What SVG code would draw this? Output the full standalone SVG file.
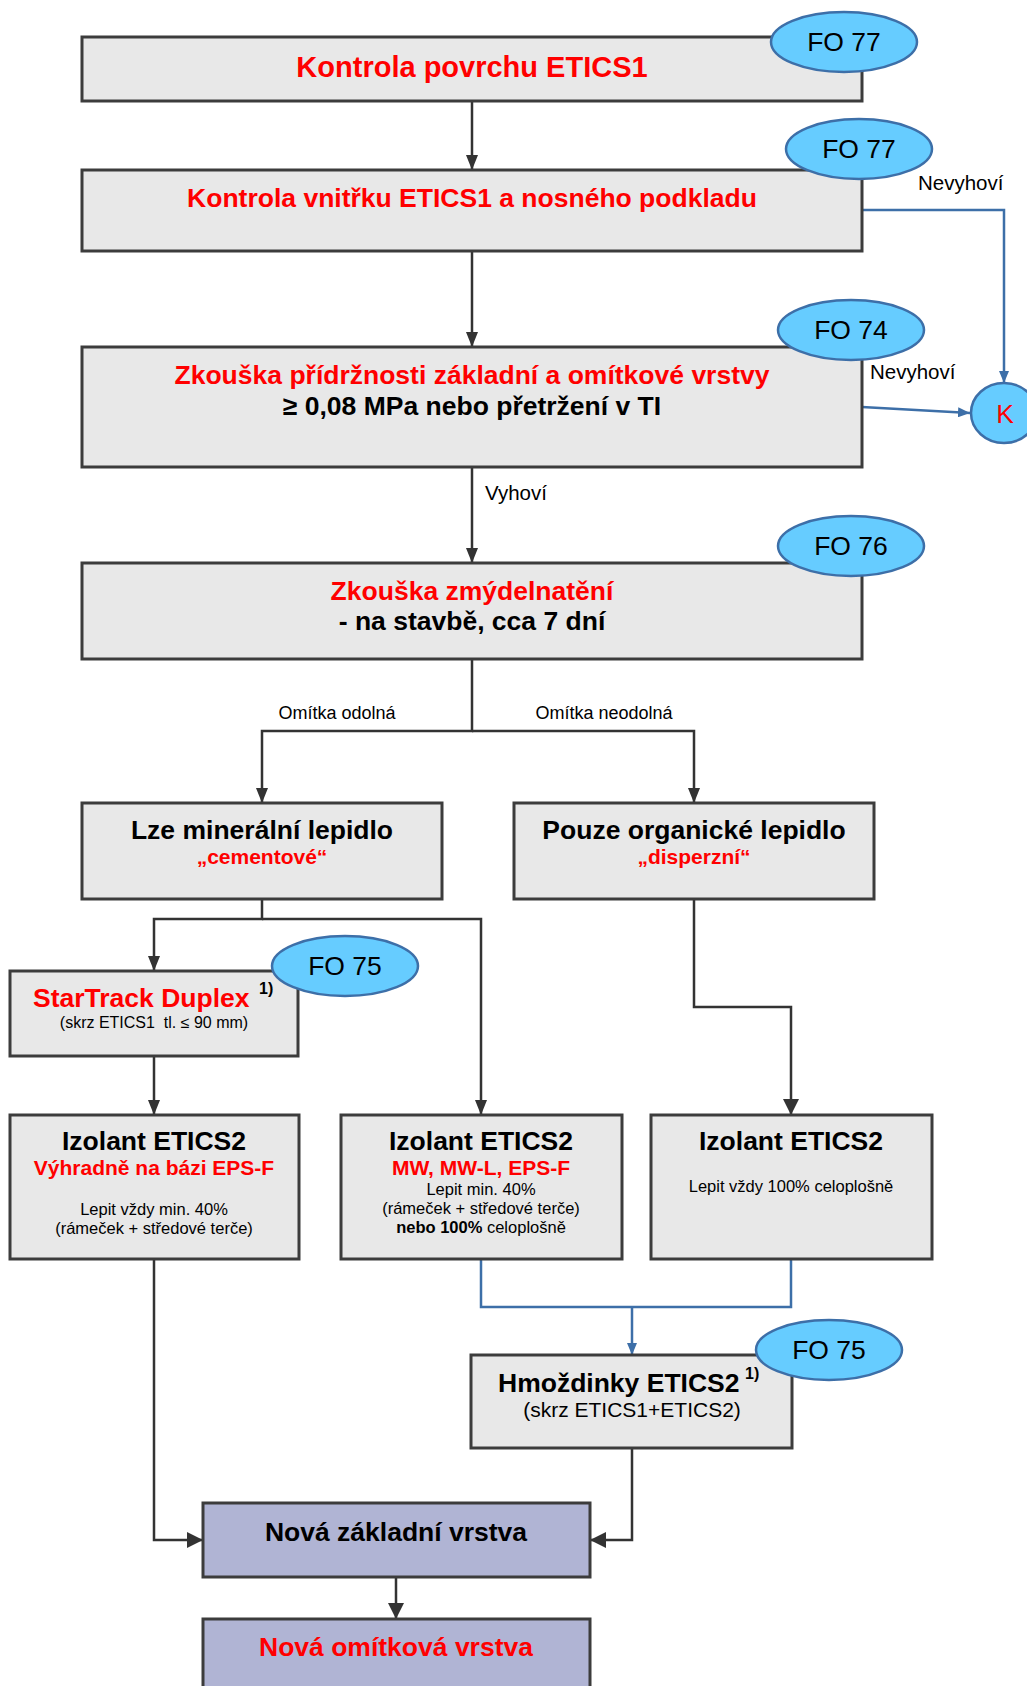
<svg xmlns="http://www.w3.org/2000/svg" width="1027" height="1686" viewBox="0 0 1027 1686">
<style>
text{font-family:"Liberation Sans",Arial,sans-serif}
.box{fill:#e8e8e8;stroke:#3c3c3c;stroke-width:3}
.boxb{fill:#b0b4d4;stroke:#3c3c3c;stroke-width:3}
.fo{fill:#66ccff;stroke:#3d6fa8;stroke-width:2.5}
.t1{font-size:29px;font-weight:bold;fill:#ff0000;text-anchor:middle}
.tr{font-size:26.5px;font-weight:bold;fill:#ff0000;text-anchor:middle}
.tb{font-size:26.5px;font-weight:bold;fill:#000;text-anchor:middle}
.sr{font-size:21px;font-weight:bold;fill:#ff0000;text-anchor:middle}
.sm{font-size:16.5px;fill:#000;text-anchor:middle}
.fot{font-size:26.5px;fill:#000;text-anchor:middle}
.lab{font-size:20.5px;fill:#000}
.lab2{font-size:18px;fill:#000;text-anchor:middle}
.sup{font-size:16px;font-weight:bold;fill:#000}
.ln{fill:none;stroke:#333;stroke-width:2.5}
.bl{fill:none;stroke:#3d6fa8;stroke-width:2.5}
</style>
<defs>
<marker id="ab" markerUnits="userSpaceOnUse" markerWidth="15" markerHeight="12" refX="15" refY="6" orient="auto" viewBox="0 0 15 12"><path d="M0,0 L15,6 L0,12 z" fill="#333"/></marker>
<marker id="abig" markerUnits="userSpaceOnUse" markerWidth="16" markerHeight="16" refX="16" refY="8" orient="auto" viewBox="0 0 16 16"><path d="M0,0 L16,8 L0,16 z" fill="#333"/></marker>
<marker id="ablue" markerUnits="userSpaceOnUse" markerWidth="12" markerHeight="10" refX="12" refY="5" orient="auto" viewBox="0 0 12 10"><path d="M0,0 L12,5 L0,10 z" fill="#3d6fa8"/></marker>
</defs>

<g id="connectors">
<path class="ln" d="M472 101 V170" marker-end="url(#ab)"/>
<path class="ln" d="M472 251 V347" marker-end="url(#ab)"/>
<path class="ln" d="M472 467 V563" marker-end="url(#ab)"/>
<path class="ln" d="M472 659 V731 H262 V803" marker-end="url(#ab)"/>
<path class="ln" d="M472 731 H694 V803" marker-end="url(#ab)"/>
<path class="ln" d="M262 899 V919 H154 V971" marker-end="url(#ab)"/>
<path class="ln" d="M262 919 H481 V1115" marker-end="url(#ab)"/>
<path class="ln" d="M154 1056 V1115" marker-end="url(#ab)"/>
<path class="ln" d="M694 899 V1007 H791 V1115" marker-end="url(#abig)"/>
<path class="bl" d="M481 1259 V1307 H791 V1259"/>
<path class="bl" d="M632 1307 V1355" marker-end="url(#ablue)"/>
<path class="ln" d="M154 1259 V1540 H203" marker-end="url(#abig)"/>
<path class="ln" d="M632 1448 V1540 H590" marker-end="url(#abig)"/>
<path class="ln" d="M396 1577 V1619" marker-end="url(#abig)"/>
<path class="bl" d="M862 210 H1004 V383" marker-end="url(#ablue)"/>
<path class="bl" d="M862 407 L970 413" marker-end="url(#ablue)"/>
<text class="lab" x="918" y="190">Nevyhoví</text>
<text class="lab" x="870" y="379">Nevyhoví</text>
<text class="lab" x="485" y="500">Vyhoví</text>
<text class="lab2" x="337" y="719">Omítka odolná</text>
<text class="lab2" x="604" y="719">Omítka neodolná</text>
</g>

<g id="n1">
<rect class="box" x="82" y="37" width="780" height="64"/>
<text class="t1" x="472" y="77">Kontrola povrchu ETICS1</text>
</g>
<g id="fo1"><ellipse class="fo" cx="844" cy="42" rx="73" ry="30"/><text class="fot" x="844" y="51">FO 77</text></g>

<g id="n2">
<rect class="box" x="82" y="170" width="780" height="81"/>
<text class="tr" x="472" y="207">Kontrola vnitřku ETICS1 a nosného podkladu</text>
</g>
<g id="fo2"><ellipse class="fo" cx="859" cy="149" rx="73" ry="30"/><text class="fot" x="859" y="158">FO 77</text></g>

<g id="n3">
<rect class="box" x="82" y="347" width="780" height="120"/>
<text class="tr" x="472" y="384">Zkouška přídržnosti základní a omítkové vrstvy</text>
<text class="tb" x="472" y="415">≥ 0,08 MPa nebo přetržení v TI</text>
</g>
<g id="fo3"><ellipse class="fo" cx="851" cy="330" rx="73" ry="30"/><text class="fot" x="851" y="339">FO 74</text></g>

<g id="k"><ellipse class="fo" cx="1004" cy="413" rx="33" ry="30"/><text class="fot" x="1005" y="423" style="fill:#ff0000">K</text></g>

<g id="n4">
<rect class="box" x="82" y="563" width="780" height="96"/>
<text class="tr" x="472" y="600">Zkouška zmýdelnatění</text>
<text class="tb" x="472" y="630">- na stavbě, cca 7 dní</text>
</g>
<g id="fo4"><ellipse class="fo" cx="851" cy="546" rx="73" ry="30"/><text class="fot" x="851" y="555">FO 76</text></g>

<g id="n5">
<rect class="box" x="82" y="803" width="360" height="96"/>
<text class="tb" x="262" y="839">Lze minerální lepidlo</text>
<text class="sr" x="262" y="864">„cementové“</text>
</g>

<g id="n6">
<rect class="box" x="514" y="803" width="360" height="96"/>
<text class="tb" x="694" y="839">Pouze organické lepidlo</text>
<text class="sr" x="694" y="864">„disperzní“</text>
</g>

<g id="n7">
<rect class="box" x="10" y="971" width="288" height="85"/>
<text class="tr" x="33" y="1007" style="text-anchor:start">StarTrack Duplex</text>
<text class="sup" x="259" y="994">1)</text>
<text class="sm" x="154" y="1028" style="font-size:16px">(skrz ETICS1&#160; tl. ≤ 90 mm)</text>
</g>
<g id="fo5"><ellipse class="fo" cx="345" cy="966" rx="73" ry="30"/><text class="fot" x="345" y="975">FO 75</text></g>

<g id="n8">
<rect class="box" x="10" y="1115" width="289" height="144"/>
<text class="tb" x="154" y="1150">Izolant ETICS2</text>
<text class="sr" x="154" y="1175">Výhradně na bázi EPS-F</text>
<text class="sm" x="154" y="1215">Lepit vždy min. 40%</text>
<text class="sm" x="154" y="1234">(rámeček + středové terče)</text>
</g>

<g id="n9">
<rect class="box" x="341" y="1115" width="281" height="144"/>
<text class="tb" x="481" y="1150">Izolant ETICS2</text>
<text class="sr" x="481" y="1175">MW, MW-L, EPS-F</text>
<text class="sm" x="481" y="1195">Lepit min. 40%</text>
<text class="sm" x="481" y="1214">(rámeček + středové terče)</text>
<text class="sm" x="481" y="1233"><tspan font-weight="bold">nebo 100%</tspan> celoplošně</text>
</g>

<g id="n10">
<rect class="box" x="651" y="1115" width="281" height="144"/>
<text class="tb" x="791" y="1150">Izolant ETICS2</text>
<text class="sm" x="791" y="1192">Lepit vždy 100% celoplošně</text>
</g>

<g id="n11">
<rect class="box" x="471" y="1355" width="321" height="93"/>
<text class="tb" x="498" y="1392" style="text-anchor:start">Hmoždinky ETICS2</text>
<text class="sup" x="745" y="1379">1)</text>
<text class="sm" x="632" y="1417" style="font-size:21px">(skrz ETICS1+ETICS2)</text>
</g>
<g id="fo6"><ellipse class="fo" cx="829" cy="1350" rx="73" ry="30"/><text class="fot" x="829" y="1359">FO 75</text></g>

<g id="n12">
<rect class="boxb" x="203" y="1503" width="387" height="74"/>
<text class="tb" x="396" y="1541">Nová základní vrstva</text>
</g>

<g id="n13">
<rect class="boxb" x="203" y="1619" width="387" height="90"/>
<text class="tr" x="396" y="1656">Nová omítková vrstva</text>
</g>
</svg>
